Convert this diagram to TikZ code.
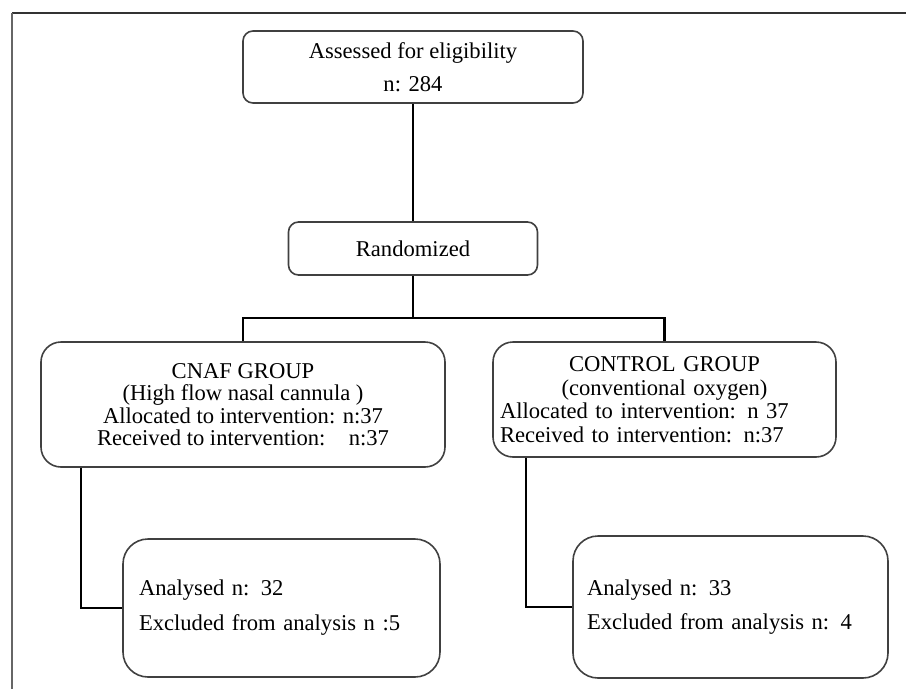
\documentclass[tikz,border=0pt]{standalone}
\usepackage{fontspec}
\setmainfont{Liberation Serif}
\begin{document}
\begin{tikzpicture}[x=1pt, y=-1pt,
    box/.style={draw=black!75, line width=1.6pt, inner ysep=0pt,
      font=\fontsize{22.6}{25}\selectfont},
    line/.style={line width=2.2pt}]
  \useasboundingbox (0,0) rectangle (906,689);
  % frame
  \draw[black!80, line width=2pt] (12,13) -- (906,13);
  \draw[black!60, line width=2pt] (12,13) -- (12,689);

  \node[box, rounded corners=10pt, minimum width=340pt, minimum height=72pt, align=center,
    font=\fontsize{22.6}{33}\selectfont] (assess) at (413,67) {Assessed for eligibility\\n: 284};
  \node[box, rounded corners=10pt, minimum width=249pt, minimum height=53pt] (rand) at (413,248.5) {Randomized};
  \node[box, rounded corners=20pt, minimum width=404pt, minimum height=125pt, align=center,
    font=\fontsize{22.6}{22.5}\selectfont] (cnaf) at (243,404.5)
    {CNAF GROUP\\(High flow nasal cannula )\\Allocated to intervention: n:37\\Received to intervention:\hspace{0.7em} n:37};
  \node[box, rounded corners=20pt, minimum width=343pt, minimum height=115pt, text width=329pt,
    inner xsep=7pt, align=left, font=\fontsize{22.6}{23.5}\selectfont] (ctrl) at (664.5,399.5)
    {\makebox[\linewidth]{CONTROL GROUP}\\\makebox[\linewidth]{(conventional oxygen)}\\Allocated to intervention: n 37\\Received to intervention: n:37};
  \node[box, rounded corners=25pt, minimum width=317pt, minimum height=138pt, text width=285pt,
    inner xsep=16pt, align=left, font=\fontsize{22.6}{35}\selectfont] (anlcnaf) at (281.5,608)
    {Analysed n: 32\\Excluded from analysis n :5};
  \node[box, rounded corners=25pt, minimum width=315pt, minimum height=142pt, text width=287pt,
    inner xsep=14pt, align=left, font=\fontsize{22.6}{34}\selectfont] (anlctrl) at (730.5,607)
    {Analysed n: 33\\Excluded from analysis n: 4};

  \coordinate (split) at (413,318);
  \draw[line] (assess) -- (rand);
  \draw[line] (rand) -- (split);
  \draw[line] (cnaf.north) |- (split) -| (ctrl.north);
  \draw[line] ([xshift=41pt]cnaf.south west) |- (anlcnaf.west);
  \draw[line] ([xshift=34pt]ctrl.south west) |- (anlctrl.west);
\end{tikzpicture}
\end{document}
